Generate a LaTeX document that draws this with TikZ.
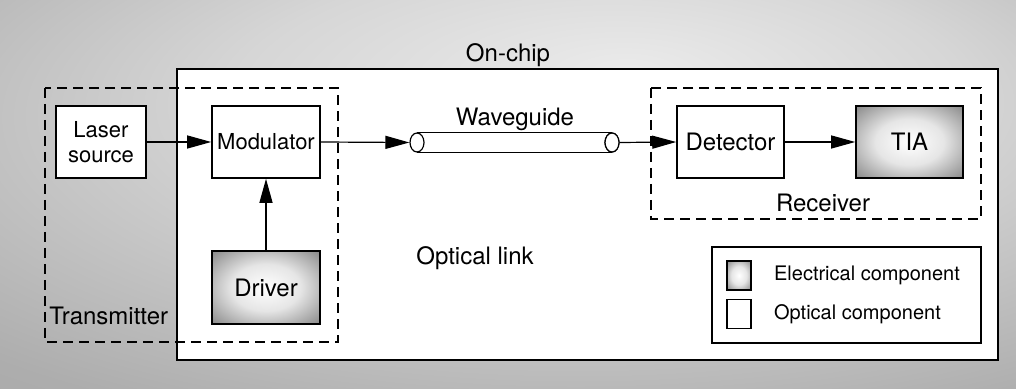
\documentclass[tikz,border=0pt]{standalone}
\usepackage{fontspec}
\setmainfont{TeX Gyre Heros}
\usetikzlibrary{arrows.meta,positioning,shapes.geometric}
\pgfdeclareradialshading{elecshade}{\pgfpoint{0bp}{0bp}}{color(0bp)=(white); color(16bp)=(black!10); color(32bp)=(black!40); color(46bp)=(black!66); color(50bp)=(black!72); color(75bp)=(black!80)}
\pgfdeclareradialshading{papershade}{\pgfpoint{6bp}{16bp}}{color(0bp)=(black!8); color(18bp)=(black!16); color(40bp)=(black!32); color(75bp)=(black!44)}
\tikzset{
  optbox/.style={draw, line width=0.8pt, fill=white, align=center, inner sep=1pt,
    font=\fontsize{12}{13}\selectfont},
  elecbox/.style={draw, line width=0.8pt, shade, shading=elecshade, align=center, inner sep=1pt,
    font=\fontsize{12}{13}\selectfont},
  wgend/.style={ellipse, draw, line width=0.6pt, fill=white, inner sep=0pt,
    minimum width=7pt, minimum height=9.5pt},
  dashbox/.style={line width=0.8pt, dash pattern=on 5pt off 3pt},
  lbl/.style={inner sep=1pt, font=\fontsize{12}{13}\selectfont},
  keytext/.style={inner sep=1pt, font=\fontsize{10}{11}\selectfont},
  flow/.style={-{Triangle[length=12pt,width=6.5pt]}, line width=0.6pt}
}

\begin{document}
\begin{tikzpicture}[x=0.5pt,y=-0.5pt]
  \useasboundingbox (0,0) rectangle (1016,389);
  \shade[shading=papershade] (0,0) rectangle (1016,389);
  % chip and the two groups
  \draw[line width=0.9pt, fill=white] (177,69) rectangle (998,360);
  \draw[dashbox] (45,88) rectangle (338,342);
  \draw[dashbox] (651,88) rectangle (981,219);
  \node[lbl] (chiplbl) at (508,55) {On-chip};
  \node[lbl, anchor=west] (txlbl) at (47,316) {Transmitter};
  \node[lbl] (rxlbl) at (823,203) {Receiver};
  \node[lbl] (linklbl) at (475,258) {Optical link};

  % transmitter
  \node[optbox, minimum width=45pt, minimum height=36pt, font=\fontsize{11}{12.5}\selectfont] (laser) at (101,142) {Laser\\source};
  \node[optbox, minimum width=54pt, minimum height=36pt, font=\fontsize{11}{12.5}\selectfont] (mod) at (266,142) {Modulator};
  \node[elecbox, minimum width=54pt, minimum height=36.5pt] (drv) at (266,287.5) {Driver};
  \draw[flow] (laser.east) -- (mod.west);
  \draw[flow] (drv.north) -- (mod.south);

  % waveguide
  \node[wgend] (wgin) at (417,142.5) {};
  \node[wgend] (wgout) at (612,142.5) {};
  \draw[line width=0.6pt] (wgin.north) -- (wgout.north);
  \draw[line width=0.6pt] (wgin.south) -- (wgout.south);
  \node[wgend] at (wgout) {};
  \node[lbl] (wglbl) at (515,119) {Waveguide};
  \draw[flow] (mod.east) -- (wgin.west);

  % receiver
  \node[optbox, minimum width=53.5pt, minimum height=36pt] (det) at (730.5,142) {Detector};
  \node[elecbox, minimum width=53.5pt, minimum height=36pt] (tia) at (909.5,142) {TIA};
  \draw[flow] (wgout.east) -- (det.west);
  \draw[flow] (det.east) -- (tia.west);

  % key
  \draw[line width=0.8pt, fill=white] (712,247) rectangle (981,343);
  \node[elecbox, minimum width=12pt, minimum height=14.5pt, line width=0.7pt] (keyel) at (739,275.5) {};
  \node[optbox, minimum width=12pt, minimum height=14.5pt, line width=0.7pt] (keyop) at (739,314) {};
  \node[keytext, right=10pt of keyel] (keyeltxt) {Electrical component};
  \node[keytext, right=10pt of keyop] (keyoptxt) {Optical component};
\end{tikzpicture}
\end{document}
